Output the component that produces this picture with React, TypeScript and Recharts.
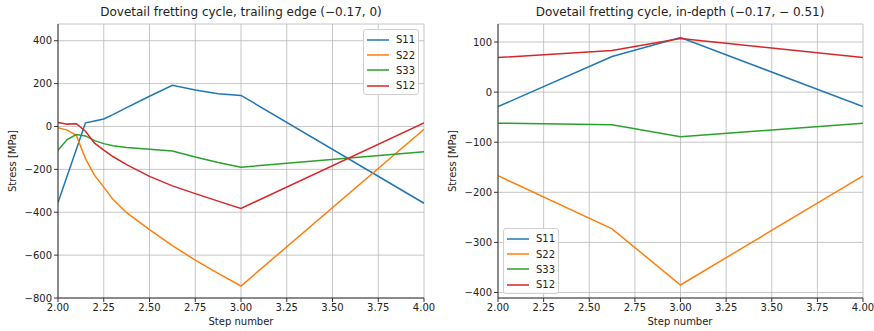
import React from "react";
import { LineChart, Line, XAxis, YAxis, CartesianGrid } from "recharts";

// trailing edge (-0.17, 0)
const stepsA = [2.0, 2.05, 2.1, 2.15, 2.2, 2.25, 2.3, 2.375, 2.5, 2.625, 2.75, 2.875, 3.0, 4.0];
const s11A = [-355, -231, -107, 17, 26, 35, 55, 88, 141, 192, 170, 153, 145, -358];
const s22A = [-6, -17, -41, -150, -228, -283, -340, -402, -481, -556, -623, -685, -744, -13];
const s33A = [-111, -61, -38, -44, -66, -80, -90, -98, -106, -114, -142, -168, -190, -118];
const s12A = [19, 11, 13, -22, -78, -110, -140, -178, -233, -277, -313, -348, -382, 17];

// in-depth (-0.17, -0.51)
const stepsB = [2.0, 2.625, 3.0, 4.0];
const s11B = [-29, 71, 109, -29];
const s22B = [-167, -273, -385, -167];
const s33B = [-62, -65, -89, -62];
const s12B = [69, 83, 107, 69];

const xTicks = [2.0, 2.25, 2.5, 2.75, 3.0, 3.25, 3.5, 3.75, 4.0];
const yTicksA = [-800, -600, -400, -200, 0, 200, 400];
const yTicksB = [-400, -300, -200, -100, 0, 100];

const seriesNames = ["S11", "S22", "S33", "S12"];
const colors = ["#1f77b4", "#ff7f0e", "#2ca02c", "#d62728"];

const font = "'DejaVu Sans', sans-serif";
const frame = "#333";

const build = (steps: number[], cols: number[][]) =>
  steps.map((x, i) => {
    const row: any = { x };
    seriesNames.forEach((n, k) => (row[n] = cols[k][i]));
    return row;
  });

const fmtY = (v: number) => String(v).replace("-", "\u2212");

function Legend({ left, top }: { left: number; top: number }) {
  return (
    <div
      style={{
        position: "absolute",
        left,
        top,
        width: 56,
        height: 66,
        boxSizing: "border-box",
        border: "1px solid #d0d0d0",
        borderRadius: 3,
        background: "rgba(255,255,255,0.85)",
        padding: "2px 0 0 3px",
        fontFamily: font,
        fontSize: 10,
        color: "#222",
      }}
    >
      {seriesNames.map((n, i) => (
        <div key={n} style={{ display: "flex", alignItems: "center", height: 15.4 }}>
          <svg width={22} height={4} style={{ marginRight: 7 }}>
            <line x1={0} y1={2} x2={22} y2={2} stroke={colors[i]} strokeWidth={1.5} />
          </svg>
          <span>{n}</span>
        </div>
      ))}
    </div>
  );
}

function Panel({
  data,
  domain,
  yTicks,
  width,
  rightMargin,
}: {
  data: any[];
  domain: [number, number];
  yTicks: number[];
  width: number;
  rightMargin: number;
}) {
  return (
    <LineChart
      width={width}
      height={331}
      data={data}
      margin={{ top: 24, right: rightMargin, bottom: 0, left: 0 }}
    >
      <CartesianGrid stroke="#b8b8b8" strokeWidth={0.8} ticks={undefined} />
      <XAxis
        dataKey="x"
        type="number"
        domain={[2, 4]}
        ticks={xTicks}
        tickFormatter={(v: number) => v.toFixed(2)}
        height={33}
        tickSize={4}
        tickMargin={2}
        stroke={frame}
        tick={{ fill: "#222", fontSize: 10, fontFamily: font }}
        allowDataOverflow
      />
      <XAxis xAxisId="top" orientation="top" type="number" domain={[2, 4]} height={0} tick={false} tickLine={false} stroke={frame} />
      <YAxis
        type="number"
        domain={domain}
        ticks={yTicks}
        tickFormatter={fmtY}
        width={58}
        tickSize={4}
        tickMargin={2}
        stroke={frame}
        tick={{ fill: "#222", fontSize: 10, fontFamily: font }}
        allowDataOverflow
      />
      <YAxis yAxisId="r" orientation="right" type="number" domain={domain} width={0} tick={false} tickLine={false} stroke={frame} />
      {seriesNames.map((n, i) => (
        <Line
          key={n}
          dataKey={n}
          stroke={colors[i]}
          strokeWidth={1.5}
          dot={false}
          type="linear"
          isAnimationActive={false}
        />
      ))}
    </LineChart>
  );
}

const titleStyle: React.CSSProperties = {
  position: "absolute",
  top: 5,
  fontFamily: font,
  fontSize: 12,
  color: "#222",
  whiteSpace: "nowrap",
  transform: "translateX(-50%)",
};

const xLabelStyle: React.CSSProperties = {
  position: "absolute",
  top: 316,
  fontFamily: font,
  fontSize: 10,
  color: "#222",
  whiteSpace: "nowrap",
  transform: "translateX(-50%)",
};

const yLabelStyle: React.CSSProperties = {
  position: "absolute",
  top: 161,
  fontFamily: font,
  fontSize: 10,
  color: "#222",
  whiteSpace: "nowrap",
  transform: "translate(-50%, -50%) rotate(-90deg)",
};

export default function App() {
  const dataA = build(stepsA, [s11A, s22A, s33A, s12A]);
  const dataB = build(stepsB, [s11B, s22B, s33B, s12B]);
  return (
    <div style={{ position: "absolute", left: 0, top: 0, width: 874, height: 331, background: "#fff" }}>
      <div style={{ position: "absolute", left: 0, top: 0 }}>
        <Panel data={dataA} domain={[-800, 478]} yTicks={yTicksA} width={440} rightMargin={16} />
      </div>
      <div style={{ position: "absolute", left: 440, top: 0 }}>
        <Panel data={dataB} domain={[-411, 136]} yTicks={yTicksB} width={434} rightMargin={11} />
      </div>
      <div style={{ ...titleStyle, left: 241 }}>Dovetail fretting cycle, trailing edge (−0.17, 0)</div>
      <div style={{ ...titleStyle, left: 680 }}>Dovetail fretting cycle, in-depth (−0.17, − 0.51)</div>
      <div style={{ ...xLabelStyle, left: 241 }}>Step number</div>
      <div style={{ ...xLabelStyle, left: 680 }}>Step number</div>
      <div style={{ ...yLabelStyle, left: 12 }}>Stress [MPa]</div>
      <div style={{ ...yLabelStyle, left: 452 }}>Stress [MPa]</div>
      <Legend left={363} top={29} />
      <Legend left={503} top={228} />
    </div>
  );
}
